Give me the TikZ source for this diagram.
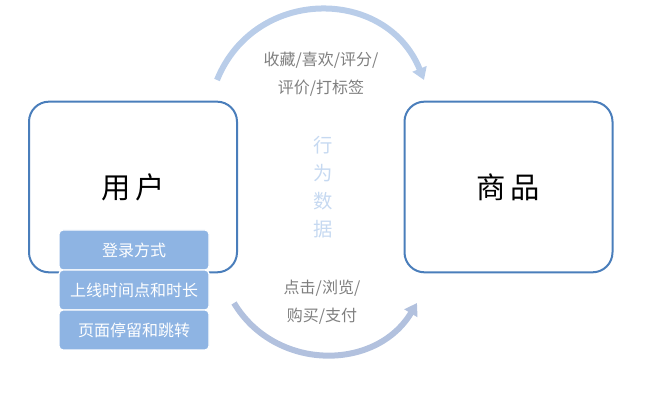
\documentclass[tikz,border=0pt]{standalone}
\usepackage{fontspec}
\setmainfont{Noto Sans CJK SC}
\usetikzlibrary{arrows.meta}
\definecolor{boxblue}{HTML}{4A7EBB}
\definecolor{subblue}{HTML}{8EB4E3}
\definecolor{arcblue}{HTML}{B9CDE9}
\definecolor{arcgray}{HTML}{B2C1DE}
\definecolor{textgray}{HTML}{7F7F7F}
\definecolor{lightblue}{HTML}{C6D9F1}

\begin{document}
\begin{tikzpicture}[x=0.75pt, y=0.75pt,
    bigbox/.style={draw=boxblue, line width=1.5pt, rounded corners=15pt, fill=white,
        minimum width=156pt, minimum height=128pt, inner sep=0pt,
        font=\fontsize{22pt}{26pt}\selectfont},
    subbox/.style={draw=white, line width=1pt, rounded corners=3pt, fill=subblue,
        minimum width=112.5pt, minimum height=30pt, inner sep=0pt, text=white,
        font=\fontsize{12pt}{14pt}\selectfont},
    graytext/.style={text=textgray, align=center, font=\fontsize{12pt}{21pt}\selectfont},
    flowarc/.style={line width=4.5pt, -{Triangle[length=9pt, width=11pt]}}]
    \useasboundingbox (0,0) rectangle (670,420);

    % Boxes
    \node[bigbox] (user) at (133,233) {用\,户};
    \node[bigbox] (item) at (508.5,233) {商\,品};

    % User attributes
    \foreach \y/\t [count=\i] in {170/登录方式, 130/上线时间点和时长, 90/页面停留和跳转}
        \node[subbox] (attr\i) at (134,\y) {\t};

    % Behaviour data
    \node[text=lightblue, align=center, font=\fontsize{14.5pt}{21pt}\selectfont]
        (behave) at (323,232.5) {行\\为\\数\\据};

    % Arcs
    \coordinate (topstart) at (217,340);
    \coordinate (topend) at (424,340);
    \draw[flowarc, arcblue] (topstart) to[out=68, in=112, looseness=1.25] (topend);
    \coordinate (botstart) at (234,117);
    \coordinate (botend) at (417,117);
    \draw[flowarc, arcgray] (botstart) to[out=-59, in=-121, looseness=1.12] (botend);

    \node[graytext] (toplabel) at (321,346) {收藏/喜欢/评分/\\评价/打标签};
    \node[graytext] (botlabel) at (322,118) {点击/浏览/\\购买/支付};
\end{tikzpicture}
\end{document}
